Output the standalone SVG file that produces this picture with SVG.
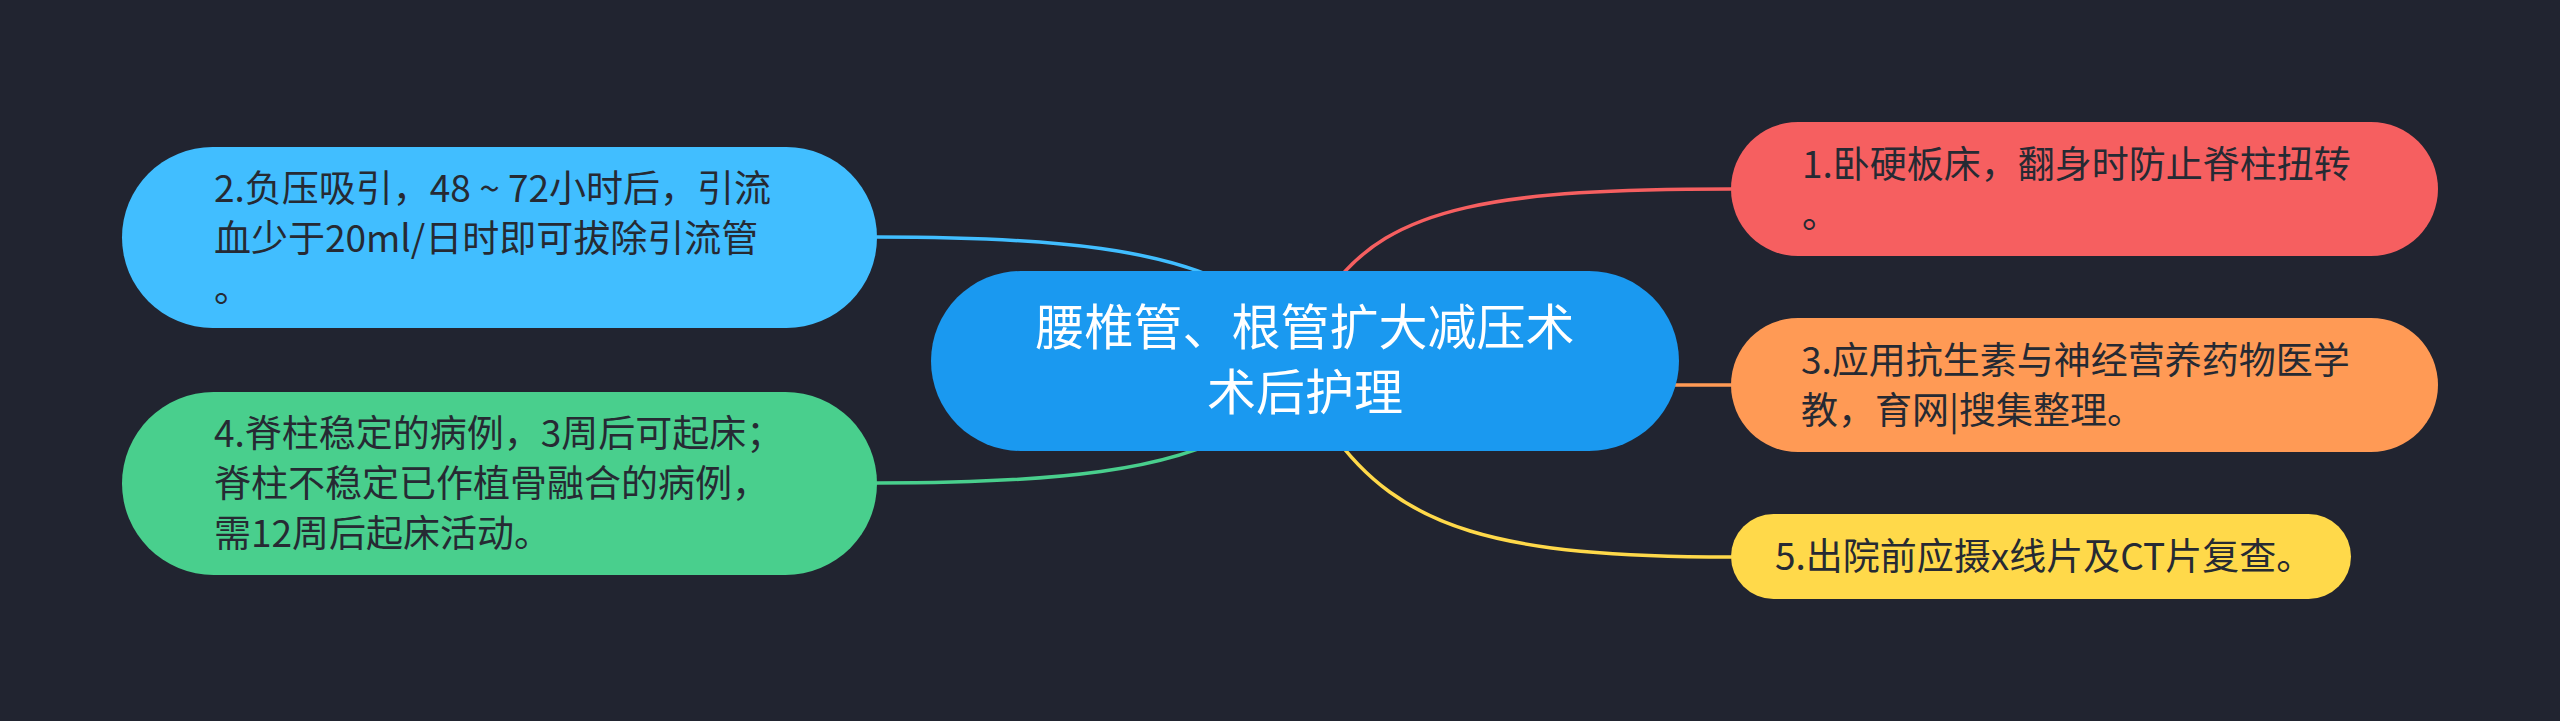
<svg xmlns="http://www.w3.org/2000/svg" width="2560" height="721" viewBox="0 0 2560 721">
<style>
.t{font-family:"Noto Sans CJK SC","Noto Sans",sans-serif;font-size:37px;fill:#262a33}
.c{font-family:"Noto Sans CJK SC","Noto Sans",sans-serif;font-size:49px;fill:#ffffff;text-anchor:middle}
.l{fill:none;stroke-width:3.5;stroke-linecap:round}
</style>
<rect width="2560" height="721" fill="#212430"/>
<g id="connectors">
<path class="l" stroke="#41BEFF" d="M 877 237 C 1060 237 1170 250 1240 290"/>
<path class="l" stroke="#49CF8D" d="M 877 483 C 1060 483 1170 470 1240 430"/>
<path class="l" stroke="#F65F60" d="M 1731 189 C 1500 189 1390 205 1330 290"/>
<path class="l" stroke="#FF9A55" d="M 1660 385 L 1731 385"/>
<path class="l" stroke="#FFD94A" d="M 1731 557 C 1500 557 1400 530 1330 430"/>
</g>
<g id="center">
<rect x="931" y="271" width="748" height="180" rx="90" fill="#1A99F0"/>
<text class="c" x="1305" y="345">腰椎管、根管扩大减压术</text>
<text class="c" x="1305" y="410">术后护理</text>
</g>
<g id="node1">
<rect x="1731" y="122" width="707" height="134" rx="67" fill="#F65F60"/>
<text class="t" x="1802" y="178">1.卧硬板床，翻身时防止脊柱扭转</text>
<text class="t" x="1802" y="228">。</text>
</g>
<g id="node2">
<rect x="122" y="147" width="755" height="181" rx="90.5" fill="#41BEFF"/>
<text class="t" x="214" y="202">2.负压吸引，48 ~ 72小时后，引流</text>
<text class="t" x="214" y="252">血少于20ml/日时即可拔除引流管</text>
<text class="t" x="214" y="302">。</text>
</g>
<g id="node3">
<rect x="1731" y="318" width="707" height="134" rx="67" fill="#FF9A55"/>
<text class="t" x="1801" y="374">3.应用抗生素与神经营养药物医学</text>
<text class="t" x="1801" y="424">教，育网|搜集整理。</text>
</g>
<g id="node4">
<rect x="122" y="392" width="755" height="183" rx="91.5" fill="#49CF8D"/>
<text class="t" x="214" y="447">4.脊柱稳定的病例，3周后可起床；</text>
<text class="t" x="214" y="497">脊柱不稳定已作植骨融合的病例，</text>
<text class="t" x="214" y="547">需12周后起床活动。</text>
</g>
<g id="node5">
<rect x="1731" y="514" width="620" height="85" rx="42.5" fill="#FFD94A"/>
<text class="t" x="1775" y="570">5.出院前应摄x线片及CT片复查。</text>
</g>
</svg>
